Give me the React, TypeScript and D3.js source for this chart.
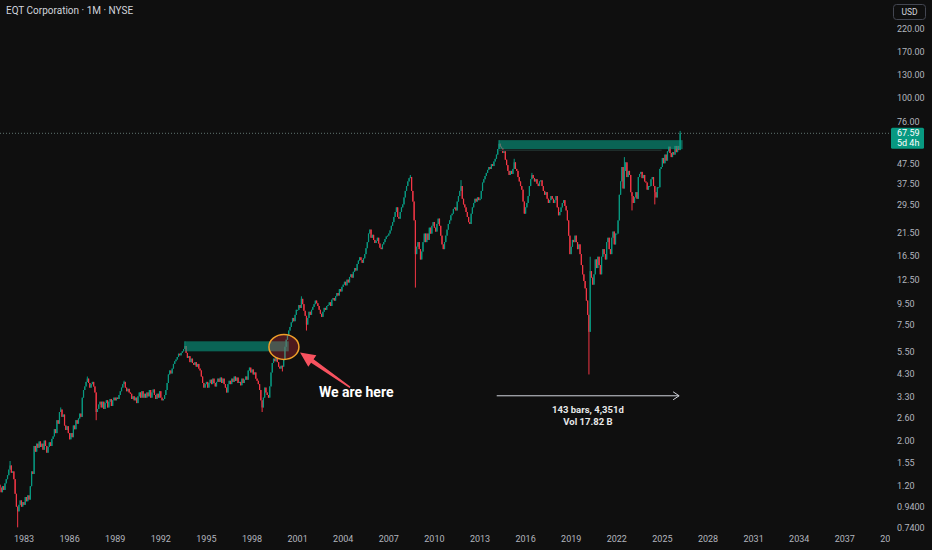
import { useEffect, useRef } from "react";
import * as d3 from "d3";

const W = 932;
const H = 550;
const PLOT_RIGHT = 890;

const BG = "#0f0f0f";
const UP = "#089981";
const DOWN = "#f23645";
const TEXT = "#d1d4dc";
const AXIS_TEXT = "#b2b5be";
const FONT = "Roboto, 'Noto Sans', sans-serif";

// monthly closes, first bar Jun 1981
const FIRST_YEAR = 1981;
const FIRST_MONTH = 6;
const FIRST_OPEN = 1.22;
const closes = [
  1.18, 1.12, 1.2, 1.15, 1.24, 1.3, 1.36, // 1981
  1.45, 1.52, 1.4, 1.42, 1.3, 1.1, 0.95, 0.9, 0.97, 1.02, 0.95, 1.0, // 1982
  0.97, 1.06, 1.01, 1.08, 1.03, 1.2, 1.42, 1.38, 1.9, 1.78, 1.95, 1.86, // 1983
  2.0, 1.88, 1.95, 1.82, 2.02, 1.9, 1.76, 1.88, 1.98, 1.9, 2.06, 2.12, // 1984
  2.3, 2.2, 2.55, 2.45, 2.8, 2.88, 2.65, 2.72, 2.4, 2.28, 2.38, 2.2, // 1985
  2.05, 2.2, 2.1, 2.4, 2.3, 2.55, 2.45, 2.6, 2.75, 2.65, 3.3, 3.6, // 1986
  3.75, 3.95, 4.1, 3.9, 3.7, 3.85, 3.95, 3.75, 3.5, 2.8, 2.9, 3.05, // 1987
  3.15, 2.95, 3.15, 2.9, 3.1, 3.2, 2.95, 3.15, 3.25, 3.0, 3.2, 3.3, // 1988
  3.2, 3.3, 3.25, 3.4, 3.55, 3.7, 3.85, 3.95, 3.7, 3.55, 3.65, 3.5, // 1989
  3.45, 3.25, 3.35, 3.2, 3.3, 3.1, 3.35, 3.5, 3.3, 3.55, 3.3, 3.45, // 1990
  3.3, 3.5, 3.35, 3.6, 3.3, 3.5, 3.62, 3.4, 3.25, 3.45, 3.3, 3.55, // 1991
  3.3, 3.2, 3.25, 3.4, 3.6, 3.9, 4.3, 4.5, 4.35, 4.6, 4.85, 5.0, // 1992
  5.1, 5.25, 5.45, 5.35, 5.5, 5.6, 5.75, 5.95, 5.5, 5.2, 5.3, 4.95, // 1993
  5.15, 4.9, 4.8, 4.95, 4.7, 4.85, 4.6, 4.5, 4.2, 3.9, 3.7, 3.85, // 1994
  3.95, 3.7, 3.9, 4.05, 3.85, 4.1, 3.9, 3.75, 3.95, 4.1, 3.95, 4.15, // 1995
  3.9, 4.1, 3.85, 3.7, 3.5, 3.85, 4.0, 3.85, 4.1, 3.95, 4.2, 4.0, // 1996
  4.15, 3.9, 3.95, 3.8, 4.1, 3.9, 4.05, 4.2, 4.05, 4.5, 4.65, 4.4, // 1997
  4.55, 4.3, 4.4, 4.1, 4.0, 3.85, 3.6, 3.2, 2.95, 3.3, 3.7, 3.5, // 1998
  3.4, 3.3, 3.75, 4.4, 4.9, 5.15, 5.0, 5.2, 4.95, 4.7, 4.6, 4.75, // 1999
  4.7, 5.1, 5.9, 6.4, 6.7, 7.1, 7.4, 7.8, 8.2, 7.9, 8.5, 9.0, // 2000
  9.0, 9.5, 9.2, 10.2, 9.6, 8.9, 8.4, 7.6, 8.2, 8.8, 8.5, 9.0, // 2001
  9.3, 9.6, 10.0, 9.7, 9.4, 9.0, 8.6, 8.3, 8.8, 9.2, 9.0, 9.4, // 2002
  9.5, 9.8, 9.4, 10.1, 10.3, 10.0, 10.5, 10.9, 10.6, 11.4, 11.1, 11.7, // 2003
  12.0, 12.4, 11.9, 12.7, 12.3, 13.1, 13.5, 13.0, 13.9, 14.5, 14.1, 15.2, // 2004
  15.8, 16.4, 15.9, 15.4, 16.2, 17.0, 18.2, 19.5, 21.5, 22.5, 20.5, 21.2, // 2005
  20.0, 19.3, 19.8, 20.5, 19.2, 18.3, 18.0, 19.0, 19.5, 20.2, 20.8, 21.0, // 2006
  21.5, 22.3, 23.5, 24.5, 26.0, 27.5, 29.0, 26.0, 25.5, 27.5, 29.0, 30.0, // 2007
  32.5, 35.0, 37.0, 39.0, 40.5, 41.0, 35.0, 31.0, 25.0, 17.0, 18.5, 19.5, // 2008
  18.0, 16.0, 17.5, 19.5, 21.5, 19.5, 21.5, 20.0, 23.0, 21.5, 23.5, 24.5, // 2009
  23.0, 22.0, 24.0, 25.5, 23.5, 21.0, 19.0, 18.0, 19.5, 21.0, 22.5, 24.0, // 2010
  25.0, 26.5, 27.0, 28.5, 29.0, 28.0, 31.0, 33.0, 35.0, 37.0, 32.0, 30.0, // 2011
  29.0, 27.5, 26.0, 24.5, 24.0, 27.0, 29.0, 30.5, 32.0, 31.0, 32.5, 31.5, // 2012
  32.0, 35.0, 38.5, 40.0, 41.5, 43.0, 44.5, 46.0, 45.0, 47.5, 46.5, 49.0, // 2013
  50.5, 53.0, 56.5, 60.0, 58.0, 57.0, 54.0, 55.0, 50.0, 47.0, 44.0, 42.0, // 2014
  44.0, 42.5, 45.0, 48.5, 45.0, 44.0, 41.0, 39.0, 37.0, 35.5, 31.0, 27.0, // 2015
  29.0, 30.5, 33.0, 37.0, 40.0, 42.0, 40.5, 39.0, 40.0, 38.0, 37.0, 39.0, // 2016
  39.5, 37.0, 35.0, 33.5, 34.5, 32.0, 30.5, 31.5, 33.0, 32.0, 30.5, 31.5, // 2017
  33.0, 29.0, 26.5, 27.5, 29.0, 30.5, 31.5, 29.5, 28.0, 25.0, 21.0, 17.0, // 2018
  18.5, 20.0, 19.5, 21.0, 19.5, 18.0, 19.0, 17.0, 15.0, 13.5, 12.5, 11.5, // 2019
  10.0, 8.5, 7.0, 14.0, 13.0, 12.0, 13.5, 16.0, 14.5, 16.5, 15.0, 13.5, // 2020
  16.5, 18.0, 17.0, 16.0, 19.5, 20.5, 18.0, 17.0, 20.5, 22.0, 19.0, 21.5, // 2021
  21.5, 25.0, 33.5, 39.0, 46.0, 36.0, 44.0, 48.5, 41.0, 44.0, 42.0, 34.5, // 2022
  33.0, 30.5, 32.5, 34.5, 32.0, 41.0, 42.5, 43.5, 40.5, 42.0, 39.0, 38.5, // 2023
  35.5, 37.0, 37.0, 40.0, 41.0, 37.0, 34.5, 32.5, 36.5, 36.5, 45.0, 46.0, // 2024
  51.0, 48.0, 53.0, 49.5, 55.0, 58.0, 54.0, 51.5, 54.5, 53.0, 58.5, 54.5, // 2025
  58.5, 55.8, 67.59, // 2026
];

// notable wicks beyond the candle body
const wickMonths = [
  "1982-02", "1982-08", "1985-06", "1987-03", "1987-10", "1989-08", "1993-08", "1998-09",
  "2000-01", "2001-04", "2001-08", "2008-06", "2008-10", "2011-10", "2014-04", "2015-04",
  "2016-06", "2020-03", "2020-04", "2022-07", "2023-01", "2024-07", "2026-03",
];
const wickHighs = [
  1.6, null, 2.95, 4.2, null, 4.0, 6.28, null,
  null, 10.5, null, 42, null, 39.6, 62.5, 50.5,
  43, null, 16.5, 51.5, null, null, 69.5,
];
const wickLows = [
  null, 0.75, null, null, 2.55, null, null, 2.8,
  4.45, null, 7.1, null, 11.6, null, null, null,
  null, 4.3, null, null, 28, 30, null,
];

const yearTicks = [1983, 1986, 1989, 1992, 1995, 1998, 2001, 2004, 2007, 2010, 2013, 2016, 2019, 2022, 2025, 2028, 2031, 2034, 2037, 2040];
const priceTicks = [220, 170, 130, 100, 76, 47.5, 37.5, 29.5, 21.5, 16.5, 12.5, 9.5, 7.5, 5.5, 4.3, 3.3, 2.6, 2.0, 1.55, 1.2, 0.94, 0.74];

// drawn zones (decimal year, price)
const zoneFrom = [1993.6, 2014.25];
const zoneTo = [2000.42, 2026.33];
const zoneLow = [5.6, 56.4];
const zoneHigh = [6.28, 62.5];

const LAST_PRICE = 67.59;
const COUNTDOWN = "5d 4h";

export default function App() {
  const svgRef = useRef<SVGSVGElement>(null);

  useEffect(() => {
    if (!svgRef.current) return;
    const svg = d3.select(svgRef.current);
    svg.selectAll("*").remove();

    const x = d3.scaleLinear().domain([1983, 2040]).range([24, 890.4]);
    const y = d3.scaleLog().domain([0.74, 220]).range([528.5, 30]);

    svg.append("rect").attr("width", W).attr("height", H).attr("fill", BG);

    svg.append("clipPath").attr("id", "plot")
      .append("rect").attr("x", 0).attr("y", 0).attr("width", PLOT_RIGHT).attr("height", H);

    const plot = svg.append("g").attr("clip-path", "url(#plot)");

    // candles
    const candles = closes.map((c, i) => {
      const m0 = FIRST_MONTH - 1 + i;
      const yr = FIRST_YEAR + Math.floor(m0 / 12);
      const mo = (m0 % 12) + 1;
      const key = `${yr}-${String(mo).padStart(2, "0")}`;
      const o = i === 0 ? FIRST_OPEN : closes[i - 1];
      const wi = wickMonths.indexOf(key);
      let h = Math.max(o, c);
      let l = Math.min(o, c);
      if (wi >= 0 && wickHighs[wi] != null) h = Math.max(h, wickHighs[wi] as number);
      if (wi >= 0 && wickLows[wi] != null) l = Math.min(l, wickLows[wi] as number);
      return { t: FIRST_YEAR + m0 / 12, o, h, l, c };
    });

    const cg = plot.append("g");
    candles.forEach((d) => {
      const col = d.c >= d.o ? UP : DOWN;
      const cx = x(d.t);
      cg.append("line")
        .attr("x1", cx).attr("x2", cx)
        .attr("y1", y(d.h)).attr("y2", y(d.l))
        .attr("stroke", col).attr("stroke-width", 1);
      const top = y(Math.max(d.o, d.c));
      const bot = y(Math.min(d.o, d.c));
      cg.append("rect")
        .attr("x", cx - 0.6).attr("width", 1.2)
        .attr("y", top).attr("height", Math.max(1, bot - top))
        .attr("fill", col);
    });

    // zones
    zoneFrom.forEach((f, i) => {
      plot.append("rect")
        .attr("x", x(f)).attr("width", x(zoneTo[i]) - x(f))
        .attr("y", y(zoneHigh[i])).attr("height", y(zoneLow[i]) - y(zoneHigh[i]))
        .attr("fill", UP).attr("opacity", 0.62);
    });
    plot.append("line")
      .attr("x1", x(zoneFrom[1])).attr("x2", x(2024.95))
      .attr("y1", y(zoneLow[1]) + 1).attr("y2", y(zoneLow[1]) + 1)
      .attr("stroke", "#1e2c2a").attr("stroke-width", 1.5);

    // last price line
    plot.append("line")
      .attr("x1", 0).attr("x2", PLOT_RIGHT)
      .attr("y1", y(LAST_PRICE)).attr("y2", y(LAST_PRICE))
      .attr("stroke", "#5f7370").attr("stroke-width", 1)
      .attr("stroke-dasharray", "1,2");

    // circle
    plot.append("ellipse")
      .attr("cx", x(2000.1)).attr("cy", y(5.89))
      .attr("rx", 15).attr("ry", 12.5)
      .attr("fill", "rgba(242,54,69,0.28)")
      .attr("stroke", "#f0a029").attr("stroke-width", 1.5);

    // red arrow
    const tip = [x(2001.16), y(5.53)];
    const tail = [x(2004.45), y(3.71)];
    const dx = tip[0] - tail[0];
    const dy = tip[1] - tail[1];
    const len = Math.hypot(dx, dy);
    const ux = dx / len, uy = dy / len;
    const px = -uy, py = ux;
    const hl = 15, hw = 7;
    const bx = tip[0] - ux * hl, by = tip[1] - uy * hl;
    const pts = [
      [tail[0] + px * 0.8, tail[1] + py * 0.8],
      [bx + px * 2.2, by + py * 2.2],
      [bx + px * hw, by + py * hw],
      [tip[0], tip[1]],
      [bx - px * hw, by - py * hw],
      [bx - px * 2.2, by - py * 2.2],
      [tail[0] - px * 0.8, tail[1] - py * 0.8],
    ];
    plot.append("polygon")
      .attr("points", pts.map((p) => p.join(",")).join(" "))
      .attr("fill", "#f7525f");

    plot.append("text")
      .attr("x", x(2002.4)).attr("y", y(3.45))
      .attr("dominant-baseline", "middle")
      .attr("fill", "#ffffff").attr("font-family", FONT)
      .attr("font-size", 14).attr("font-weight", 700)
      .text("We are here");

    // measure
    const mx1 = x(2014.1), mx2 = x(2026.1), my = y(3.37);
    plot.append("line")
      .attr("x1", mx1).attr("x2", mx2).attr("y1", my).attr("y2", my)
      .attr("stroke", TEXT).attr("stroke-width", 1);
    plot.append("path")
      .attr("d", `M${mx2 - 6},${my - 4}L${mx2},${my}L${mx2 - 6},${my + 4}`)
      .attr("fill", "none").attr("stroke", TEXT).attr("stroke-width", 1);
    const mmid = (mx1 + mx2) / 2;
    ["143 bars, 4,351d", "Vol 17.82 B"].forEach((s, i) => {
      plot.append("text")
        .attr("x", mmid).attr("y", my + 15 + i * 12)
        .attr("text-anchor", "middle").attr("dominant-baseline", "middle")
        .attr("fill", "#e8e8e8").attr("font-family", FONT)
        .attr("font-size", 9.5).attr("font-weight", 700)
        .text(s);
    });

    // title
    svg.append("text")
      .attr("x", 6).attr("y", 11)
      .attr("dominant-baseline", "middle")
      .attr("fill", TEXT).attr("font-family", FONT).attr("font-size", 10)
      .text("EQT Corporation · 1M · NYSE");

    // time axis
    yearTicks.forEach((yr) => {
      svg.append("text")
        .attr("x", x(yr)).attr("y", 540)
        .attr("text-anchor", "middle").attr("dominant-baseline", "middle")
        .attr("fill", AXIS_TEXT).attr("font-family", FONT).attr("font-size", 9)
        .text(String(yr));
    });

    // price axis panel
    svg.append("rect")
      .attr("x", PLOT_RIGHT).attr("y", 0).attr("width", W - PLOT_RIGHT).attr("height", H)
      .attr("fill", BG);

    priceTicks.forEach((p) => {
      svg.append("text")
        .attr("x", 897).attr("y", y(p))
        .attr("dominant-baseline", "middle")
        .attr("fill", AXIS_TEXT).attr("font-family", FONT).attr("font-size", 9)
        .text(p < 1 ? p.toFixed(4) : p.toFixed(2));
    });

    // USD button
    svg.append("rect")
      .attr("x", 893.5).attr("y", 4.5).attr("width", 32).attr("height", 15).attr("rx", 3)
      .attr("fill", "none").attr("stroke", "#434651").attr("stroke-width", 1);
    svg.append("text")
      .attr("x", 909.5).attr("y", 12.5)
      .attr("text-anchor", "middle").attr("dominant-baseline", "middle")
      .attr("fill", TEXT).attr("font-family", FONT).attr("font-size", 8.5)
      .text("USD");

    // last price tag
    const ly = y(LAST_PRICE);
    svg.append("rect")
      .attr("x", 891).attr("y", ly - 5.5).attr("width", 33).attr("height", 21).attr("rx", 1.5)
      .attr("fill", UP);
    svg.append("text")
      .attr("x", 897).attr("y", ly + 0.5)
      .attr("dominant-baseline", "middle")
      .attr("fill", "#ffffff").attr("font-family", FONT).attr("font-size", 9)
      .text(LAST_PRICE.toFixed(2));
    svg.append("text")
      .attr("x", 897).attr("y", ly + 10.5)
      .attr("dominant-baseline", "middle")
      .attr("fill", "#ffffff").attr("font-family", FONT).attr("font-size", 9)
      .text(COUNTDOWN);
  }, []);

  return (
    <svg
      ref={svgRef}
      width={W}
      height={H}
      viewBox={`0 0 ${W} ${H}`}
      style={{ position: "absolute", left: 0, top: 0, display: "block" }}
    />
  );
}
